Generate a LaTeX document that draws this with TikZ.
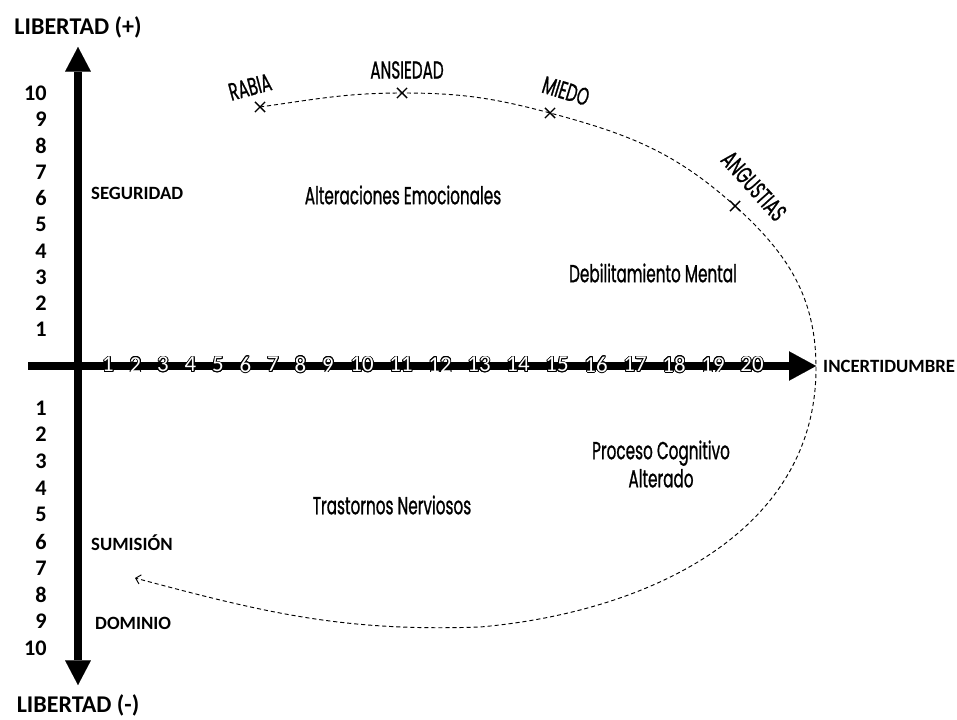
\documentclass[tikz,border=0pt]{standalone}
\usepackage{fontspec}
\setmainfont{Carlito}
\newfontfamily\condfont[FakeStretch=0.62, FakeBold=0.9]{Poppins}
\usepackage[copies]{contour}
\contourlength{0.7pt}
\usetikzlibrary{arrows.meta, shapes.misc}

\begin{document}
\begin{tikzpicture}[
  x=0.03cm, y=0.03cm,
  axis/.style={line width=7.5pt},
  big/.style={font=\fontsize{20.5}{23}\selectfont\bfseries, inner sep=0pt},
  lab/.style={font=\fontsize{16}{18}\selectfont\bfseries, inner sep=0pt, anchor=west},
  num/.style={font=\fontsize{19}{21}\selectfont\bfseries, inner sep=0pt, anchor=east},
  tick/.style={font=\fontsize{19.5}{21}\selectfont, text=white, inner sep=0pt},
  zone/.style={font=\condfont\fontsize{21}{24}\selectfont, align=center, inner sep=0pt},
  emo/.style={font=\condfont\fontsize{21}{24}\selectfont, inner sep=0pt},
  xmark/.style={draw, cross out, line width=1.2pt, minimum size=7.5pt, inner sep=0pt},
  flow/.style={line width=0.8pt, dash pattern=on 3.5pt off 2.5pt}
]
\useasboundingbox (0,0) rectangle (957,719);

% axes
\coordinate (xbeg) at (28,353);
\coordinate (xtip) at (816,353);
\coordinate (ytop) at (78,672);
\coordinate (ybot) at (78,34);
\draw[axis, -{Triangle[length=23pt, width=25pt, line width=0.01pt]}] (xbeg) -- (xtip);
\draw[axis, {Triangle[length=21pt, width=22pt, line width=0.01pt]}-{Triangle[length=21pt, width=22pt, line width=0.01pt]}] (ybot) -- (ytop);

% scale on the horizontal axis
\foreach \i in {1,...,9}
  \node[tick] (t\i) at ({108+27.5*(\i-1)},354) {\contour{black}{\i}};
\foreach \i in {10,...,20}
  \node[tick] (t\i) at ({362+39*(\i-10)},354) {\contour{black}{\i}};

% scales on the vertical axis
\foreach \i in {1,...,10}
  \node[num] (up\i) at (47,{626-26.3*(10-\i)}) {\i};
\foreach \i in {1,...,10}
  \node[num] (dn\i) at (47,{311-26.7*(\i-1)}) {\i};

\node[big] (libup) at (78,692) {LIBERTAD (+)};
\node[big] (libdn) at (78,14) {LIBERTAD (-)};
\node[lab] (incert) at (823,353) {INCERTIDUMBRE};
\node[lab] (segur) at (91,526) {SEGURIDAD};
\node[lab] (sumis) at (91,176) {SUMISIÓN};
\node[lab] (domin) at (95,96) {DOMINIO};

\node[zone] (alter) at (403,524) {Alteraciones Emocionales};
\node[zone] (debil) at (653,446) {Debilitamiento Mental};
\node[zone] (proces) at (661,255) {Proceso Cognitivo\\Alterado};
\node[zone] (trast) at (392,214) {Trastornos Nerviosos};

% emotions on the curve
\node[xmark] (rabia) at (260,612) {};
\node[xmark] (ansiedad) at (402,626) {};
\node[xmark] (miedo) at (550,606) {};
\node[xmark] (angustias) at (735,513) {};
\coordinate (apex) at (816,351);
\coordinate (bottom) at (480,92);
\coordinate (back) at (135,141);

\node[emo, rotate=15] (rabiatxt) at (250,632) {RABIA};
\node[emo] (ansiedadtxt) at (407,649) {ANSIEDAD};
\node[emo, rotate=-17] (miedotxt) at (566,628) {MIEDO};
\node[emo, rotate=-48] (angustiastxt) at (754,533) {ANGUSTIAS};

\draw[flow, -{Straight Barb[length=4pt, width=8pt]}] (rabia.center)
  to[out=8, in=180] (ansiedad.center)
  to[out=0, in=165] (miedo.center)
  to[out=-15, in=138] (angustias.center)
  to[out=-42, in=90] (apex)
  to[out=-90, in=5] (bottom)
  to[out=182, in=-15] (back);
\end{tikzpicture}
\end{document}
